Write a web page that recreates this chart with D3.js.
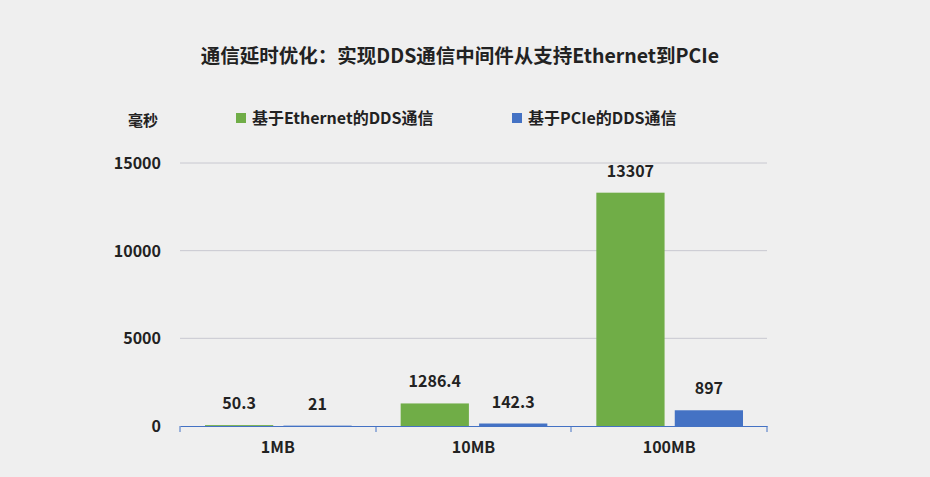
<!DOCTYPE html>
<html><head><meta charset="utf-8">
<script src="https://cdn.jsdelivr.net/npm/d3@7"></script>
<style>body{margin:0;background:#efefef;font-family:"Noto Sans CJK SC",sans-serif;}</style>
</head><body>
<svg id="chart" width="930" height="477"></svg>
<script>
const categories = ["1MB", "10MB", "100MB"];
const seriesNames = ["基于Ethernet的DDS通信", "基于PCIe的DDS通信"];
const ethernet = [50.3, 1286.4, 13307];
const pcie = [21, 142.3, 897];
const valueLabels = [["50.3", "1286.4", "13307"], ["21", "142.3", "897"]];
const yTicks = [0, 5000, 10000, 15000];
const colors = ["#70ad47", "#4472c4"];

const svg = d3.select("#chart");
svg.append("rect").attr("width", 930).attr("height", 477).attr("fill", "#efefef");

const x = d3.scaleBand().domain(categories).range([180, 767]);
const y = d3.scaleLinear().domain([0, 15000]).range([426, 163]);
const sub = d3.scaleBand().domain([0, 1]).range([25, x.bandwidth() - 24]).paddingInner(0.13);

svg.append("text").attr("x", 460).attr("y", 63).attr("text-anchor", "middle")
  .attr("font-size", 19.5).attr("font-weight", "bold").attr("fill", "#222")
  .text("通信延时优化：实现DDS通信中间件从支持Ethernet到PCIe");
svg.append("text").attr("x", 143).attr("y", 126).attr("text-anchor", "middle")
  .attr("font-size", 15).attr("font-weight", "bold").attr("fill", "#222").text("毫秒");

// gridlines
svg.selectAll(".grid").data(yTicks.slice(1)).join("line")
  .attr("x1", 180).attr("x2", 767).attr("y1", d => y(d)).attr("y2", d => y(d))
  .attr("stroke", "#c8c8d0").attr("stroke-width", 1);
svg.selectAll(".ylab").data(yTicks).join("text")
  .attr("x", 161).attr("y", d => y(d) + 6).attr("text-anchor", "end")
  .attr("font-size", 16).attr("font-weight", "bold").attr("fill", "#222").text(d => d);

// legend
seriesNames.forEach((s, i) => {
  const lx = [236, 512][i];
  svg.append("rect").attr("x", lx).attr("y", 113).attr("width", 10).attr("height", 10).attr("fill", colors[i]);
  svg.append("text").attr("x", lx + 16).attr("y", 124).attr("font-size", 16).attr("font-weight", "bold")
    .attr("fill", "#222").text(s);
});

[ethernet, pcie].forEach((vals, si) => {
  svg.selectAll(".bar" + si).data(vals).join("rect")
    .attr("x", (d, i) => x(categories[i]) + sub(si)).attr("width", sub.bandwidth())
    .attr("y", d => y(d)).attr("height", d => 426 - y(d)).attr("fill", colors[si]);
  svg.selectAll(".lab" + si).data(vals).join("text")
    .attr("x", (d, i) => x(categories[i]) + sub(si) + sub.bandwidth() / 2)
    .attr("y", d => y(d) - 16).attr("text-anchor", "middle")
    .attr("font-size", 16).attr("font-weight", "bold").attr("fill", "#222")
    .text((d, i) => valueLabels[si][i]);
});

// x axis
const xAxis = svg.append("g").attr("transform", "translate(0,426)")
  .call(d3.axisBottom(x).tickSizeOuter(0).tickSize(0));
xAxis.select(".domain").attr("stroke", "#4472c4");
xAxis.selectAll(".tick text").attr("dy", 24).attr("font-size", 16).attr("font-weight", "bold")
  .attr("fill", "#222").attr("font-family", "Noto Sans CJK SC");
[180, 376, 571, 767].forEach(t => svg.append("line").attr("x1", t).attr("x2", t)
  .attr("y1", 426).attr("y2", 432).attr("stroke", "#4472c4"));
</script>
</body></html>
